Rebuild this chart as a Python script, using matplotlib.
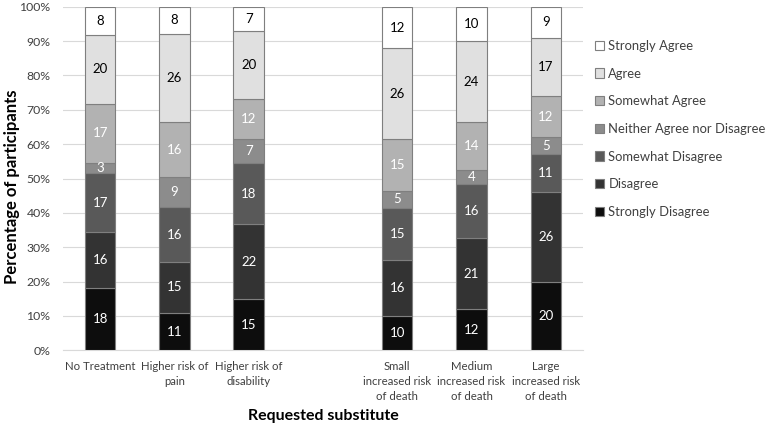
import numpy as np
import matplotlib
matplotlib.use("Agg")
from matplotlib import pyplot as plt

plt.rcParams['font.family'] = ['Lato', 'DejaVu Sans']

categories = ["No Treatment", "Higher risk of\npain", "Higher risk of\ndisability",
              "Small\nincreased risk\nof death", "Medium\nincreased risk\nof death",
              "Large\nincreased risk\nof death"]
levels = ["Strongly Disagree", "Disagree", "Somewhat Disagree",
          "Neither Agree nor Disagree", "Somewhat Agree", "Agree", "Strongly Agree"]

# counts per bar, bottom to top
strongly_disagree = [18, 11, 15, 10, 12, 20]
disagree = [16, 15, 22, 16, 21, 26]
somewhat_disagree = [17, 16, 18, 15, 16, 11]
neither = [3, 9, 7, 5, 4, 5]
somewhat_agree = [17, 16, 12, 15, 14, 12]
agree = [20, 26, 20, 26, 24, 17]
strongly_agree = [8, 8, 7, 12, 10, 9]

colors = ["#0d0d0d", "#333333", "#595959", "#8c8c8c", "#b2b2b2", "#e0e0e0", "#ffffff"]
text_colors = ["white", "white", "white", "white", "white", "black", "black"]

counts = np.array([strongly_disagree, disagree, somewhat_disagree, neither,
                   somewhat_agree, agree, strongly_agree], dtype=float)
totals = counts.sum(axis=0)
pct = counts / totals * 100

x = np.array([0, 1, 2, 4, 5, 6])

fig = plt.figure(figsize=(7.68, 4.25), dpi=100)
ax = fig.add_axes([0.082, 0.176, 0.677, 0.808])

bottom = np.zeros(len(x))
handles = []
for i, lvl in enumerate(levels):
    bars = ax.bar(x, pct[i], 0.41, bottom=bottom, color=colors[i],
                  edgecolor="#7f7f7f", linewidth=0.8, label=lvl, zorder=3)
    handles.append(bars)
    for j in range(len(x)):
        ax.text(x[j], bottom[j] + pct[i][j] / 2, str(int(counts[i][j])),
                ha="center", va="center", fontsize=9.5, color=text_colors[i], zorder=4)
    bottom += pct[i]

ax.set_xlim(-0.5, 6.5)
ax.set_ylim(0, 100)
ax.set_yticks(np.arange(0, 101, 10))
ax.set_yticklabels([f"{v}%" for v in range(0, 101, 10)], fontsize=8.8, color="#404040")
ax.set_xticks(x)
ax.set_xticklabels(categories, fontsize=8.2, color="#404040", linespacing=1.45)
ax.tick_params(length=0)
ax.tick_params(axis="x", pad=8)
ax.tick_params(axis="y", pad=9)
ax.grid(axis="y", color="#d9d9d9", linewidth=0.8, zorder=0)
for s in ["top", "right", "left"]:
    ax.spines[s].set_visible(False)
ax.spines["bottom"].set_color("#d9d9d9")

ax.set_ylabel("Percentage of participants", fontsize=12, fontweight="bold")
ax.yaxis.set_label_coords(-0.083, 0.475)
ax.set_xlabel("Requested substitute", fontsize=11.5, fontweight="bold")
ax.xaxis.set_label_coords(0.5, -0.172)

leg = ax.legend(handles[::-1], levels[::-1], loc="upper left", bbox_to_anchor=(1.0, 0.938),
                frameon=False, fontsize=9.4, handlelength=0.75, handleheight=0.75,
                handletextpad=0.3, labelspacing=1.2, labelcolor="#404040")

fig.savefig("out.png", dpi=100)
